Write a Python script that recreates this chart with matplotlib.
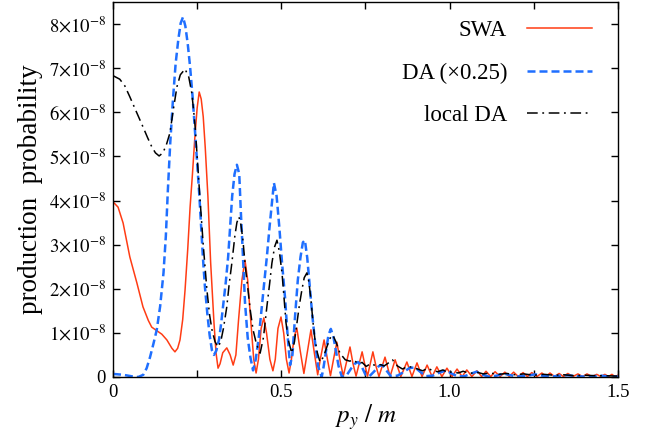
import matplotlib
matplotlib.use('Agg')
import matplotlib.pyplot as plt
import numpy as np

# values, probability in units of 1e-8
swa = np.array([
    (0.000, 3.97), (0.015, 3.85), (0.030, 3.49), (0.050, 2.72), (0.071, 2.13),
    (0.089, 1.59), (0.105, 1.28), (0.115, 1.13), (0.130, 1.05), (0.145, 0.97),
    (0.160, 0.84), (0.175, 0.65), (0.184, 0.57), (0.192, 0.65), (0.199, 0.84),
    (0.207, 1.30), (0.214, 1.97), (0.222, 2.90), (0.229, 3.85), (0.236, 4.60),
    (0.244, 5.53), (0.250, 6.10), (0.256, 6.46), (0.262, 6.30), (0.268, 5.90),
    (0.274, 5.20), (0.282, 4.08), (0.290, 2.60), (0.300, 1.22), (0.306, 0.55),
    (0.312, 0.20), (0.318, 0.30), (0.326, 0.55), (0.338, 0.66), (0.348, 0.50),
    (0.357, 0.27), (0.365, 0.50), (0.373, 1.30), (0.383, 2.20), (0.392, 2.65),
    (0.400, 2.20), (0.410, 1.20), (0.418, 0.40), (0.425, 0.09), (0.432, 0.40),
    (0.440, 1.10), (0.448, 1.34), (0.456, 1.00), (0.466, 0.40), (0.475, 0.14),
    (0.482, 0.40), (0.490, 1.10), (0.499, 1.36), (0.507, 1.00), (0.515, 0.40),
    (0.523, 0.09), (0.530, 0.40), (0.538, 0.90), (0.546, 1.11), (0.556, 0.60),
    (0.567, 0.08), (0.577, 0.55), (0.588, 1.07), (0.598, 0.55), (0.608, 0.05),
    (0.617, 0.45), (0.627, 0.84), (0.637, 0.40), (0.646, 0.03), (0.655, 0.40),
    (0.665, 0.79), (0.675, 0.35), (0.684, 0.02), (0.694, 0.35), (0.704, 0.68),
    (0.713, 0.30), (0.722, 0.02), (0.731, 0.30), (0.740, 0.57), (0.748, 0.28),
    (0.756, 0.02), (0.764, 0.30), (0.772, 0.57), (0.781, 0.25), (0.790, 0.01),
    (0.799, 0.23), (0.808, 0.45), (0.823, 0.01), (0.838, 0.39), (0.855, 0.01),
    (0.873, 0.34), (0.888, 0.01), (0.903, 0.32), (0.918, 0.01), (0.933, 0.27),
    (0.948, 0.01), (0.962, 0.23), (0.977, 0.01), (0.992, 0.20), (1.007, 0.01),
    (1.022, 0.18), (1.037, 0.01), (1.051, 0.16), (1.066, 0.01), (1.081, 0.14),
    (1.095, 0.01), (1.108, 0.13), (1.122, 0.01), (1.135, 0.12), (1.150, 0.01),
    (1.164, 0.11), (1.177, 0.01), (1.190, 0.11), (1.204, 0.01), (1.218, 0.10),
    (1.231, 0.01), (1.244, 0.10), (1.259, 0.01), (1.274, 0.09), (1.286, 0.01),
    (1.298, 0.09), (1.312, 0.01), (1.325, 0.08), (1.338, 0.01), (1.351, 0.08),
    (1.366, 0.01), (1.381, 0.07), (1.395, 0.01), (1.408, 0.07), (1.423, 0.01),
    (1.437, 0.06), (1.449, 0.01), (1.461, 0.06), (1.472, 0.01), (1.482, 0.06),
    (1.491, 0.01), (1.500, 0.04),
])

da = np.array([
    (0.000, 0.07), (0.030, 0.05), (0.060, 0.01), (0.075, 0.00), (0.090, 0.05),
    (0.100, 0.20), (0.110, 0.45), (0.120, 0.75), (0.130, 1.07), (0.140, 1.60),
    (0.150, 2.36), (0.157, 3.20), (0.163, 4.24), (0.170, 5.30), (0.178, 6.28),
    (0.186, 7.10), (0.194, 7.65), (0.201, 8.02), (0.208, 8.16), (0.215, 7.95),
    (0.222, 7.55), (0.229, 7.03), (0.237, 6.30), (0.244, 5.53), (0.250, 4.85),
    (0.256, 4.17), (0.262, 3.40), (0.267, 2.72), (0.273, 2.05), (0.280, 1.45),
    (0.287, 0.95), (0.294, 0.60), (0.300, 0.50), (0.307, 0.60), (0.315, 0.85),
    (0.321, 1.20), (0.327, 1.60), (0.335, 2.15), (0.342, 2.72), (0.348, 3.40),
    (0.354, 4.10), (0.361, 4.60), (0.368, 4.81), (0.375, 4.60), (0.380, 3.70),
    (0.385, 2.90), (0.392, 1.70), (0.400, 0.90), (0.408, 0.45), (0.416, 0.15),
    (0.424, 0.40), (0.433, 0.90), (0.442, 1.60), (0.450, 2.20), (0.457, 2.72),
    (0.465, 3.40), (0.472, 3.95), (0.478, 4.40), (0.486, 4.10), (0.494, 3.40),
    (0.502, 2.60), (0.511, 1.80), (0.519, 0.90), (0.526, 0.27), (0.533, 0.50),
    (0.541, 1.40), (0.549, 2.20), (0.557, 2.72), (0.564, 3.05), (0.570, 3.10),
    (0.577, 2.70), (0.584, 2.10), (0.592, 1.40), (0.600, 0.80), (0.609, 0.25),
    (0.620, 0.00), (0.626, 0.25), (0.633, 0.60), (0.640, 0.95), (0.647, 1.09),
    (0.655, 0.90), (0.662, 0.60), (0.670, 0.25), (0.680, 0.00), (0.695, 0.05),
    (0.708, 0.20), (0.718, 0.30), (0.728, 0.34), (0.738, 0.25), (0.750, 0.05),
    (0.762, 0.02), (0.775, 0.12), (0.790, 0.25), (0.800, 0.27), (0.812, 0.15),
    (0.825, 0.02), (0.845, 0.03), (0.865, 0.12), (0.880, 0.20), (0.897, 0.22),
    (0.912, 0.12), (0.930, 0.02), (0.950, 0.03), (0.970, 0.10), (0.990, 0.15),
    (1.005, 0.08), (1.025, 0.01), (1.045, 0.02), (1.065, 0.08), (1.080, 0.12),
    (1.095, 0.06), (1.115, 0.01), (1.140, 0.03), (1.160, 0.08), (1.175, 0.05),
    (1.200, 0.01), (1.230, 0.03), (1.255, 0.06), (1.275, 0.03), (1.300, 0.01),
    (1.330, 0.03), (1.350, 0.04), (1.375, 0.02), (1.400, 0.01), (1.430, 0.02),
    (1.450, 0.03), (1.475, 0.01), (1.500, 0.01),
])

local_da = np.array([
    (0.000, 6.83), (0.020, 6.75), (0.035, 6.60), (0.050, 6.35), (0.070, 6.00),
    (0.089, 5.67), (0.103, 5.42), (0.115, 5.22), (0.126, 5.08), (0.137, 5.01),
    (0.148, 5.08), (0.158, 5.25), (0.169, 5.53), (0.180, 6.10), (0.190, 6.58),
    (0.200, 6.85), (0.214, 6.98), (0.225, 6.80), (0.234, 6.44), (0.240, 6.00),
    (0.244, 5.67), (0.250, 4.99), (0.258, 4.08), (0.268, 3.00), (0.279, 1.97),
    (0.287, 1.40), (0.294, 1.07), (0.303, 0.80), (0.312, 0.68), (0.320, 0.80),
    (0.328, 1.10), (0.338, 1.59), (0.345, 2.10), (0.353, 2.58), (0.362, 3.20),
    (0.368, 3.50), (0.374, 3.63), (0.380, 3.45), (0.386, 3.10), (0.393, 2.50),
    (0.401, 1.97), (0.408, 1.50), (0.416, 1.07), (0.426, 0.75), (0.437, 0.54),
    (0.447, 0.90), (0.457, 1.59), (0.465, 2.10), (0.472, 2.58), (0.480, 2.95),
    (0.487, 3.10), (0.494, 2.85), (0.502, 2.36), (0.508, 1.80), (0.514, 1.22),
    (0.522, 0.80), (0.531, 0.54), (0.539, 0.80), (0.546, 1.20), (0.554, 1.65),
    (0.561, 1.97), (0.568, 2.25), (0.576, 2.36), (0.582, 2.15), (0.588, 1.75),
    (0.594, 1.25), (0.600, 0.84), (0.607, 0.55), (0.615, 0.34), (0.625, 0.45),
    (0.636, 0.70), (0.645, 0.88), (0.653, 0.95), (0.662, 0.80), (0.674, 0.54),
    (0.690, 0.39), (0.703, 0.36), (0.716, 0.38), (0.728, 0.30), (0.740, 0.33),
    (0.752, 0.24), (0.765, 0.30), (0.780, 0.26), (0.795, 0.28), (0.805, 0.25),
    (0.815, 0.30), (0.830, 0.39), (0.845, 0.25), (0.860, 0.18), (0.875, 0.24),
    (0.890, 0.22), (0.905, 0.18), (0.920, 0.14), (0.935, 0.20), (0.950, 0.14),
    (0.965, 0.12), (0.980, 0.16), (0.995, 0.10), (1.010, 0.12), (1.025, 0.09),
    (1.040, 0.13), (1.060, 0.08), (1.080, 0.11), (1.100, 0.07), (1.120, 0.09),
    (1.145, 0.06), (1.170, 0.08), (1.195, 0.05), (1.220, 0.07), (1.250, 0.04),
    (1.280, 0.06), (1.310, 0.04), (1.340, 0.05), (1.370, 0.03), (1.400, 0.04),
    (1.430, 0.03), (1.460, 0.03), (1.500, 0.02),
])

x_ticks = [0, 0.5, 1.0, 1.5]
x_tick_labels = ['0', '0.5', '1.0', '1.5']
y_ticks = list(range(9))
y_tick_labels = ['0'] + [r'$%d{\times}10^{-8}$' % k for k in range(1, 9)]

plt.rcParams['font.family'] = ['Liberation Serif', 'DejaVu Serif']
plt.rcParams['mathtext.fontset'] = 'stix'

fig = plt.figure(figsize=(6.45, 4.4), dpi=100)
ax = fig.add_axes([0.1752, 0.1432, 0.7829, 0.8523])

ax.plot(swa[:, 0], swa[:, 1], color='#ff3c14', lw=1.1, label='SWA')
ax.plot(da[:, 0], da[:, 1], color='#1f6fff', lw=1.8, ls=(0, (3.2, 1.6)),
        label='DA (×0.25)')
ax.plot(local_da[:, 0], local_da[:, 1], color='black', lw=1.1,
        ls=(0, (7, 3, 1.2, 3)), label='local DA')

ax.set_xlim(0, 1.5)
ax.set_ylim(0, 8.5)
ax.set_xticks(x_ticks)
ax.set_xticklabels(x_tick_labels)
ax.set_xticks([0.25, 0.75, 1.25], minor=True)
ax.set_yticks(y_ticks)
ax.set_yticklabels(y_tick_labels)
ax.tick_params(which='both', direction='in', top=True, right=True,
               length=5, width=1, labelsize=13.5, pad=5)
for s in ax.spines.values():
    s.set_linewidth(1.0)

ax.set_xlabel(r'$p_y\ /\ m$', fontsize=18, labelpad=1)
ax.set_ylabel('production  probability', fontsize=19.5)
ax.yaxis.set_label_coords(-0.1386, 0.5)

ax.legend(loc='upper right', bbox_to_anchor=(0.9485, 0.951), frameon=False,
          markerfirst=False, fontsize=16.5, borderaxespad=0, borderpad=0,
          handlelength=2.85, handletextpad=0.85, labelspacing=0.92)

fig.savefig('out.png', dpi=100)
